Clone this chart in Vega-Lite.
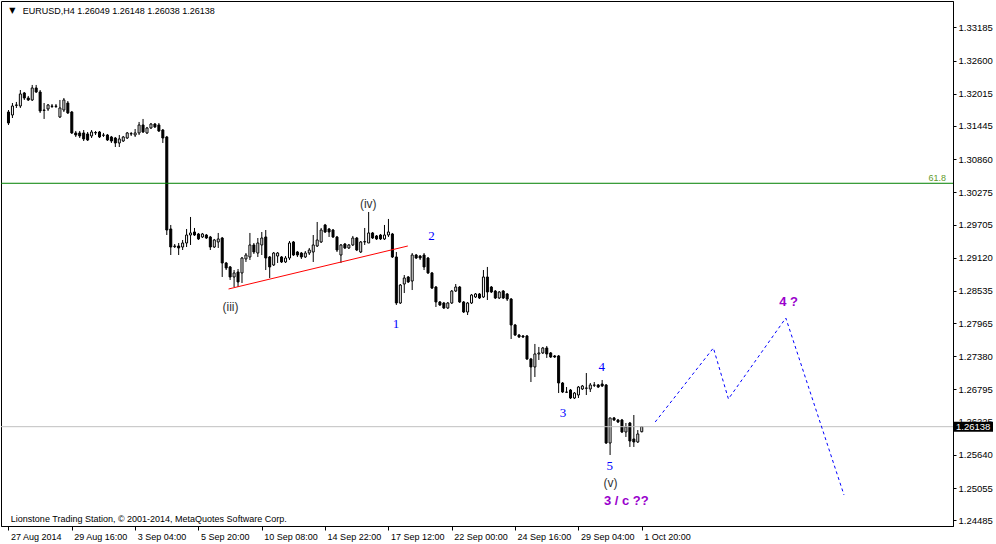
{
"$schema":"https://vega.github.io/schema/vega-lite/v6.json",
"width":952,"height":525,
"autosize":{"type":"none"},
"padding":{"left":1,"top":1,"right":43,"bottom":18},
"background":"white",
"config":{"view":{"stroke":"black","strokeWidth":1},"font":"Liberation Sans",
 "axis":{"grid":false,"domainColor":"black","tickColor":"black","labelColor":"black","labelFont":"Liberation Sans","labelFontSize":9,"labelOverlap":false,"labelFlush":false,"labelBound":false}},
"datasets":{
"candles":[
{"i":0,"o":1.31692,"h":1.31727,"l":1.31463,"c":1.31498},
{"i":1,"o":1.31639,"h":1.31851,"l":1.31586,"c":1.31798},
{"i":2,"o":1.31816,"h":1.31869,"l":1.31763,"c":1.3181},
{"i":3,"o":1.31798,"h":1.3208,"l":1.31763,"c":1.3201},
{"i":4,"o":1.32028,"h":1.32045,"l":1.31904,"c":1.31939},
{"i":5,"o":1.31939,"h":1.31975,"l":1.31886,"c":1.31904},
{"i":6,"o":1.31904,"h":1.32169,"l":1.31886,"c":1.32116},
{"i":7,"o":1.32116,"h":1.32169,"l":1.32028,"c":1.32045},
{"i":8,"o":1.32045,"h":1.3208,"l":1.31675,"c":1.3171},
{"i":9,"o":1.31727,"h":1.31851,"l":1.31569,"c":1.3172},
{"i":10,"o":1.31745,"h":1.31833,"l":1.3171,"c":1.31816},
{"i":11,"o":1.31798,"h":1.31833,"l":1.31763,"c":1.3179},
{"i":12,"o":1.3179,"h":1.31833,"l":1.31763,"c":1.31798},
{"i":13,"o":1.31604,"h":1.31904,"l":1.31586,"c":1.31763},
{"i":14,"o":1.31727,"h":1.31939,"l":1.31692,"c":1.31904},
{"i":15,"o":1.31851,"h":1.31886,"l":1.31657,"c":1.31675},
{"i":16,"o":1.31692,"h":1.3171,"l":1.31304,"c":1.31322},
{"i":17,"o":1.31322,"h":1.31357,"l":1.31251,"c":1.31286},
{"i":18,"o":1.31322,"h":1.31357,"l":1.31233,"c":1.31269},
{"i":19,"o":1.31322,"h":1.31374,"l":1.3118,"c":1.31216},
{"i":20,"o":1.31304,"h":1.31339,"l":1.3118,"c":1.31198},
{"i":21,"o":1.31269,"h":1.31374,"l":1.31233,"c":1.31339},
{"i":22,"o":1.3133,"h":1.31357,"l":1.31286,"c":1.31322},
{"i":23,"o":1.31339,"h":1.31357,"l":1.31233,"c":1.31251},
{"i":24,"o":1.3128,"h":1.31322,"l":1.31251,"c":1.31286},
{"i":25,"o":1.31286,"h":1.31304,"l":1.3118,"c":1.31198},
{"i":26,"o":1.31251,"h":1.31269,"l":1.31145,"c":1.3118},
{"i":27,"o":1.31233,"h":1.31251,"l":1.31074,"c":1.31145},
{"i":28,"o":1.31145,"h":1.31286,"l":1.31074,"c":1.31216},
{"i":29,"o":1.3118,"h":1.31269,"l":1.31163,"c":1.31251},
{"i":30,"o":1.31233,"h":1.31339,"l":1.31216,"c":1.31322},
{"i":31,"o":1.3131,"h":1.31339,"l":1.31269,"c":1.31304},
{"i":32,"o":1.31286,"h":1.31392,"l":1.31251,"c":1.31322},
{"i":33,"o":1.31322,"h":1.31516,"l":1.31286,"c":1.31463},
{"i":34,"o":1.31463,"h":1.31569,"l":1.31322,"c":1.31339},
{"i":35,"o":1.31322,"h":1.31428,"l":1.31304,"c":1.3141},
{"i":36,"o":1.3141,"h":1.31498,"l":1.31392,"c":1.3148},
{"i":37,"o":1.3148,"h":1.31498,"l":1.3141,"c":1.31428},
{"i":38,"o":1.31463,"h":1.31498,"l":1.31339,"c":1.31357},
{"i":39,"o":1.31374,"h":1.31392,"l":1.31145,"c":1.31233},
{"i":40,"o":1.31251,"h":1.31269,"l":1.29521,"c":1.29609},
{"i":41,"o":1.29627,"h":1.29698,"l":1.29168,"c":1.29309},
{"i":42,"o":1.29315,"h":1.29362,"l":1.29292,"c":1.29327},
{"i":43,"o":1.29327,"h":1.2938,"l":1.29168,"c":1.29292},
{"i":44,"o":1.29309,"h":1.29433,"l":1.29256,"c":1.2938},
{"i":45,"o":1.2938,"h":1.29627,"l":1.29309,"c":1.29521},
{"i":46,"o":1.29521,"h":1.29839,"l":1.29345,"c":1.29557},
{"i":47,"o":1.29574,"h":1.29645,"l":1.29504,"c":1.29521},
{"i":48,"o":1.29539,"h":1.29557,"l":1.29433,"c":1.29451},
{"i":49,"o":1.29486,"h":1.29557,"l":1.29468,"c":1.29539},
{"i":50,"o":1.29521,"h":1.29539,"l":1.29451,"c":1.29468},
{"i":51,"o":1.29486,"h":1.29504,"l":1.29256,"c":1.29309},
{"i":52,"o":1.29309,"h":1.29451,"l":1.29292,"c":1.29433},
{"i":53,"o":1.29398,"h":1.29557,"l":1.29292,"c":1.29451},
{"i":54,"o":1.29468,"h":1.29486,"l":1.2878,"c":1.29027},
{"i":55,"o":1.29027,"h":1.29045,"l":1.28903,"c":1.28939},
{"i":56,"o":1.28957,"h":1.28974,"l":1.28727,"c":1.2878},
{"i":57,"o":1.2878,"h":1.28903,"l":1.28603,"c":1.28851},
{"i":58,"o":1.28868,"h":1.28921,"l":1.28603,"c":1.28692},
{"i":59,"o":1.28851,"h":1.29133,"l":1.28674,"c":1.29115},
{"i":60,"o":1.29098,"h":1.29203,"l":1.29045,"c":1.29168},
{"i":61,"o":1.29133,"h":1.29557,"l":1.2908,"c":1.29345},
{"i":62,"o":1.29345,"h":1.2938,"l":1.29186,"c":1.29221},
{"i":63,"o":1.29203,"h":1.29468,"l":1.29133,"c":1.2938},
{"i":64,"o":1.29345,"h":1.29574,"l":1.29168,"c":1.29468},
{"i":65,"o":1.29486,"h":1.29609,"l":1.28903,"c":1.29115},
{"i":66,"o":1.29133,"h":1.2915,"l":1.28762,"c":1.28957},
{"i":67,"o":1.28992,"h":1.29221,"l":1.28974,"c":1.29203},
{"i":68,"o":1.2915,"h":1.29221,"l":1.29027,"c":1.29203},
{"i":69,"o":1.29133,"h":1.2915,"l":1.29027,"c":1.29045},
{"i":70,"o":1.29045,"h":1.2915,"l":1.29027,"c":1.29115},
{"i":71,"o":1.29115,"h":1.29415,"l":1.2908,"c":1.2938},
{"i":72,"o":1.29398,"h":1.29415,"l":1.2915,"c":1.29168},
{"i":73,"o":1.29221,"h":1.29238,"l":1.29133,"c":1.29168},
{"i":74,"o":1.29203,"h":1.29221,"l":1.29098,"c":1.29133},
{"i":75,"o":1.29133,"h":1.29238,"l":1.29115,"c":1.29203},
{"i":76,"o":1.29203,"h":1.29292,"l":1.29168,"c":1.29256},
{"i":77,"o":1.29221,"h":1.29521,"l":1.29045,"c":1.29345},
{"i":78,"o":1.29327,"h":1.29751,"l":1.29309,"c":1.29433},
{"i":79,"o":1.29398,"h":1.29645,"l":1.2938,"c":1.29609},
{"i":80,"o":1.29698,"h":1.29716,"l":1.29557,"c":1.29574},
{"i":81,"o":1.29627,"h":1.29645,"l":1.29486,"c":1.29574},
{"i":82,"o":1.29609,"h":1.29627,"l":1.29468,"c":1.29486},
{"i":83,"o":1.29486,"h":1.29504,"l":1.29221,"c":1.29256},
{"i":84,"o":1.29168,"h":1.29362,"l":1.29027,"c":1.29345},
{"i":85,"o":1.29362,"h":1.2938,"l":1.29274,"c":1.29292},
{"i":86,"o":1.29292,"h":1.29362,"l":1.29274,"c":1.29345},
{"i":87,"o":1.29345,"h":1.29504,"l":1.29327,"c":1.29468},
{"i":88,"o":1.29468,"h":1.29486,"l":1.29238,"c":1.29256},
{"i":89,"o":1.29221,"h":1.29415,"l":1.29203,"c":1.29398},
{"i":90,"o":1.29398,"h":1.29645,"l":1.29345,"c":1.29405},
{"i":91,"o":1.2938,"h":1.29927,"l":1.2938,"c":1.29557},
{"i":92,"o":1.29557,"h":1.29574,"l":1.29451,"c":1.29468},
{"i":93,"o":1.29504,"h":1.29521,"l":1.29433,"c":1.29451},
{"i":94,"o":1.29521,"h":1.29539,"l":1.29433,"c":1.29451},
{"i":95,"o":1.29451,"h":1.29698,"l":1.29433,"c":1.29521},
{"i":96,"o":1.29521,"h":1.29804,"l":1.29486,"c":1.29574},
{"i":97,"o":1.29539,"h":1.29557,"l":1.29115,"c":1.29133},
{"i":98,"o":1.29133,"h":1.29221,"l":1.28286,"c":1.28321},
{"i":99,"o":1.28321,"h":1.28656,"l":1.28303,"c":1.28638},
{"i":100,"o":1.28656,"h":1.28815,"l":1.28497,"c":1.28762},
{"i":101,"o":1.2878,"h":1.28797,"l":1.28674,"c":1.28692},
{"i":102,"o":1.28709,"h":1.29203,"l":1.2855,"c":1.29168},
{"i":103,"o":1.29168,"h":1.29186,"l":1.29098,"c":1.29115},
{"i":104,"o":1.2915,"h":1.29168,"l":1.2908,"c":1.29115},
{"i":105,"o":1.29168,"h":1.29203,"l":1.28903,"c":1.28957},
{"i":106,"o":1.29115,"h":1.29133,"l":1.28833,"c":1.28851},
{"i":107,"o":1.28851,"h":1.28868,"l":1.28568,"c":1.28585},
{"i":108,"o":1.28603,"h":1.28621,"l":1.2825,"c":1.28339},
{"i":109,"o":1.28339,"h":1.28356,"l":1.28268,"c":1.28286},
{"i":110,"o":1.28321,"h":1.28339,"l":1.28215,"c":1.28233},
{"i":111,"o":1.28233,"h":1.28339,"l":1.28215,"c":1.28321},
{"i":112,"o":1.28321,"h":1.2855,"l":1.28303,"c":1.28532},
{"i":113,"o":1.28532,"h":1.28656,"l":1.28515,"c":1.28603},
{"i":114,"o":1.28603,"h":1.28621,"l":1.28321,"c":1.28339},
{"i":115,"o":1.28339,"h":1.28356,"l":1.28144,"c":1.28162},
{"i":116,"o":1.28162,"h":1.28339,"l":1.28109,"c":1.28321},
{"i":117,"o":1.28321,"h":1.2848,"l":1.28303,"c":1.28462},
{"i":118,"o":1.28427,"h":1.28497,"l":1.28409,"c":1.2848},
{"i":119,"o":1.2848,"h":1.28497,"l":1.28391,"c":1.28409},
{"i":120,"o":1.28427,"h":1.28903,"l":1.28409,"c":1.2878},
{"i":121,"o":1.2878,"h":1.28957,"l":1.28374,"c":1.28515},
{"i":122,"o":1.28603,"h":1.28621,"l":1.28497,"c":1.28515},
{"i":123,"o":1.28532,"h":1.2855,"l":1.28391,"c":1.28409},
{"i":124,"o":1.28409,"h":1.28532,"l":1.28391,"c":1.28515},
{"i":125,"o":1.28532,"h":1.2855,"l":1.28391,"c":1.28409},
{"i":126,"o":1.2848,"h":1.28497,"l":1.28356,"c":1.28391},
{"i":127,"o":1.28391,"h":1.28409,"l":1.27686,"c":1.27933},
{"i":128,"o":1.27933,"h":1.27951,"l":1.27739,"c":1.27756},
{"i":129,"o":1.27756,"h":1.27774,"l":1.27703,"c":1.27721},
{"i":130,"o":1.27739,"h":1.27756,"l":1.27703,"c":1.27721},
{"i":131,"o":1.27739,"h":1.27756,"l":1.27315,"c":1.27333},
{"i":132,"o":1.27333,"h":1.27351,"l":1.26926,"c":1.27192},
{"i":133,"o":1.27192,"h":1.27598,"l":1.27015,"c":1.27421},
{"i":134,"o":1.27421,"h":1.27545,"l":1.27315,"c":1.27439},
{"i":135,"o":1.27439,"h":1.27545,"l":1.27421,"c":1.27527},
{"i":136,"o":1.27527,"h":1.27562,"l":1.27351,"c":1.27421},
{"i":137,"o":1.27439,"h":1.27456,"l":1.27351,"c":1.27368},
{"i":138,"o":1.27386,"h":1.27403,"l":1.27351,"c":1.27368},
{"i":139,"o":1.27386,"h":1.27403,"l":1.26732,"c":1.26909},
{"i":140,"o":1.26909,"h":1.26926,"l":1.26732,"c":1.2675},
{"i":141,"o":1.26745,"h":1.26838,"l":1.26732,"c":1.2675},
{"i":142,"o":1.26785,"h":1.26803,"l":1.26626,"c":1.26644},
{"i":143,"o":1.26644,"h":1.2675,"l":1.26626,"c":1.26732},
{"i":144,"o":1.26697,"h":1.26856,"l":1.26644,"c":1.26838},
{"i":145,"o":1.26803,"h":1.26874,"l":1.26785,"c":1.26856},
{"i":146,"o":1.26815,"h":1.27085,"l":1.26697,"c":1.26821},
{"i":147,"o":1.26803,"h":1.26909,"l":1.2675,"c":1.26874},
{"i":148,"o":1.26868,"h":1.26926,"l":1.26838,"c":1.26874},
{"i":149,"o":1.26874,"h":1.26891,"l":1.26821,"c":1.26838},
{"i":150,"o":1.26891,"h":1.26962,"l":1.26838,"c":1.26856},
{"i":151,"o":1.26874,"h":1.26891,"l":1.25832,"c":1.2585},
{"i":152,"o":1.2585,"h":1.26292,"l":1.25638,"c":1.26292},
{"i":153,"o":1.26292,"h":1.26309,"l":1.26238,"c":1.26256},
{"i":154,"o":1.26256,"h":1.26274,"l":1.26203,"c":1.26221},
{"i":155,"o":1.26256,"h":1.26274,"l":1.26026,"c":1.26044},
{"i":156,"o":1.26044,"h":1.26203,"l":1.25956,"c":1.26133},
{"i":157,"o":1.26203,"h":1.26221,"l":1.2578,"c":1.25885},
{"i":158,"o":1.25921,"h":1.26344,"l":1.2578,"c":1.25868},
{"i":159,"o":1.25868,"h":1.26079,"l":1.2585,"c":1.26009},
{"i":160,"o":1.26049,"h":1.26148,"l":1.26038,"c":1.26138}
],
"proj":[{"i":163.4,"p":1.26221},{"i":178.1,"p":1.27527},{"i":181.9,"p":1.26627},{"i":196.4,"p":1.28056},{"i":211.1,"p":1.24932}],
"trend":[{"i":55.6,"p":1.28568},{"i":100.9,"p":1.29327}],
"levels":[{"name":"fib","p":1.30434},{"name":"last","p":1.26138}],
"notes":[
{"t":"(iii)","i":56.1,"p":1.2825,"g":"roman"},
{"t":"(iv)","i":90.9,"p":1.30068,"g":"roman"},
{"t":"(v)","i":152.1,"p":1.25144,"g":"roman"},
{"t":"1","i":97.9,"p":1.2795,"g":"wave"},
{"t":"2","i":106.9,"p":1.29504,"g":"wave"},
{"t":"3","i":140.1,"p":1.2638,"g":"wave"},
{"t":"4","i":149.9,"p":1.27192,"g":"wave"},
{"t":"5","i":151.9,"p":1.25444,"g":"wave"},
{"t":"3 / c ??","i":156.1,"p":1.24826,"g":"target"},
{"t":"4 ?","i":197.1,"p":1.28339,"g":"target"},
{"t":"▼","i":1.0,"p":1.33475,"g":"tri"},
{"t":"EURUSD,H4  1.26049 1.26148 1.26038 1.26138","i":3.6,"p":1.33475,"g":"header"},
{"t":"Lionstone Trading Station, © 2001-2014, MetaQuotes Software Corp.","i":0.6,"p":1.24509,"g":"footer"},
{"t":"61.8","i":236.9,"p":1.30528,"g":"fib"},
{"t":"1.26138","i":240,"p":1.26138,"g":"tag"}
]
},
"layer":[
{"data":{"name":"candles"},"mark":{"type":"rule","color":"black","strokeWidth":1},
 "encoding":{
  "x":{"field":"i","type":"quantitative","scale":{"domain":[-0.625,237.375],"nice":false,"zero":false},
   "axis":{"orient":"bottom","title":null,"values":[0,16,32,48,64,80,96,112,128,144,160],"tickCount":40,
    "labelExpr":"['27 Aug 2014','29 Aug 16:00','3 Sep 04:00','5 Sep 20:00','10 Sep 08:00','14 Sep 22:00','17 Sep 12:00','22 Sep 00:00','24 Sep 16:00','29 Sep 04:00','1 Oct 20:00'][round(datum.value/16)]",
    "labelAlign":"left","labelBaseline":"top","labelPadding":2,"labelOffset":2,"tickSize":4,"labelOverlap":false,"labelFlush":false,"labelBound":false}},
  "y":{"field":"l","type":"quantitative","scale":{"domain":[1.24385,1.33651],"nice":false,"zero":false},
   "axis":{"orient":"right","title":null,"values":[1.33185,1.326,1.32015,1.31445,1.3086,1.30275,1.29705,1.2912,1.28535,1.27965,1.2738,1.26795,1.26225,1.2564,1.25055,1.24485],"tickCount":40,
    "format":".5f","tickSize":3,"labelPadding":2,"labelOverlap":false,"labelFlush":false,"labelBound":false,"labelFontSize":9.5}},
  "y2":{"field":"h"}}},
{"data":{"name":"candles"},"mark":{"type":"bar","size":2,"stroke":"black","strokeWidth":1},
 "encoding":{"x":{"field":"i","type":"quantitative"},"y":{"field":"o","type":"quantitative"},"y2":{"field":"c"},
  "fill":{"condition":{"test":"datum.o > datum.c","value":"black"},"value":"white"}}},
{"data":{"name":"levels"},"transform":[{"filter":"datum.name == 'fib'"}],"mark":{"type":"rule","color":"#008000","strokeWidth":1},
 "encoding":{"y":{"field":"p","type":"quantitative"}}},
{"data":{"name":"levels"},"transform":[{"filter":"datum.name == 'last'"}],"mark":{"type":"rule","color":"#c0c0c0","strokeWidth":1},
 "encoding":{"y":{"field":"p","type":"quantitative"}}},
{"data":{"name":"trend"},"mark":{"type":"line","color":"#ff0000","strokeWidth":1},
 "encoding":{"x":{"field":"i","type":"quantitative"},"y":{"field":"p","type":"quantitative"}}},
{"data":{"name":"proj"},"mark":{"type":"line","color":"#0000ff","strokeWidth":1,"strokeDash":[3,3]},
 "encoding":{"x":{"field":"i","type":"quantitative"},"y":{"field":"p","type":"quantitative"}}},
{"data":{"name":"notes"},"transform":[{"filter":"datum.g == 'roman'"}],"mark":{"type":"text","font":"Liberation Sans","fontSize":12,"color":"#333333","align":"center","baseline":"middle"},
 "encoding":{"x":{"field":"i","type":"quantitative"},"y":{"field":"p","type":"quantitative"},"text":{"field":"t"}}},
{"data":{"name":"notes"},"transform":[{"filter":"datum.g == 'wave'"}],"mark":{"type":"text","font":"Liberation Serif","fontSize":13,"color":"#0000ff","align":"center","baseline":"middle"},
 "encoding":{"x":{"field":"i","type":"quantitative"},"y":{"field":"p","type":"quantitative"},"text":{"field":"t"}}},
{"data":{"name":"notes"},"transform":[{"filter":"datum.g == 'target'"}],"mark":{"type":"text","font":"Liberation Sans","fontSize":13,"fontWeight":"bold","color":"#9900cc","align":"center","baseline":"middle"},
 "encoding":{"x":{"field":"i","type":"quantitative"},"y":{"field":"p","type":"quantitative"},"text":{"field":"t"}}},
{"data":{"name":"notes"},"transform":[{"filter":"datum.g == 'tri'"}],"mark":{"type":"text","font":"DejaVu Sans","fontSize":8,"color":"black","align":"center","baseline":"middle"},
 "encoding":{"x":{"field":"i","type":"quantitative"},"y":{"field":"p","type":"quantitative"},"text":{"field":"t"}}},
{"data":{"name":"notes"},"transform":[{"filter":"datum.g == 'header' || datum.g == 'footer'"}],"mark":{"type":"text","font":"Liberation Sans","fontSize":9,"color":"black","align":"left","baseline":"middle"},
 "encoding":{"x":{"field":"i","type":"quantitative"},"y":{"field":"p","type":"quantitative"},"text":{"field":"t"}}},
{"data":{"name":"notes"},"transform":[{"filter":"datum.g == 'fib'"}],"mark":{"type":"text","font":"Liberation Sans","fontSize":9,"color":"#5f9a2a","align":"right","baseline":"middle"},
 "encoding":{"x":{"field":"i","type":"quantitative"},"y":{"field":"p","type":"quantitative"},"text":{"field":"t"}}},
{"data":{"name":"notes"},"transform":[{"filter":"datum.g == 'tag'"}],"mark":{"type":"rule","color":"black","strokeWidth":10},
 "encoding":{"x":{"value":{"expr":"width+1"}},"x2":{"value":{"expr":"width+40"}},"y":{"field":"p","type":"quantitative"}}},
{"data":{"name":"notes"},"transform":[{"filter":"datum.g == 'tag'"}],"mark":{"type":"text","font":"Liberation Sans","fontSize":9.5,"color":"white","align":"left","baseline":"middle"},
 "encoding":{"x":{"value":{"expr":"width+3"}},"y":{"field":"p","type":"quantitative"},"text":{"field":"t"}}}
]
}
